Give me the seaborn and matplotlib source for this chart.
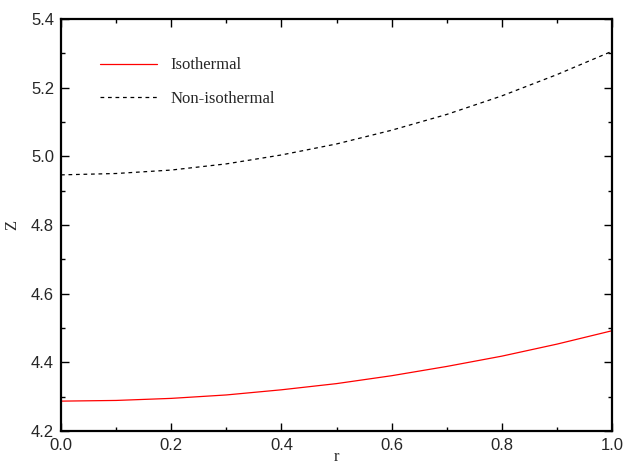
import numpy as np
import pandas as pd
import matplotlib
matplotlib.use("Agg")
import matplotlib.pyplot as plt
import seaborn as sns
from matplotlib.ticker import MultipleLocator

r = [0.0, 0.1, 0.2, 0.3, 0.4, 0.5, 0.6, 0.7, 0.8, 0.9, 1.0]
z_iso = [4.287, 4.289, 4.295, 4.305, 4.320, 4.338, 4.361, 4.388, 4.418, 4.453, 4.492]
z_noniso = [4.946, 4.950, 4.960, 4.978, 5.004, 5.036, 5.076, 5.122, 5.176, 5.238, 5.306]
series_names = ["Isothermal", "Non-isothermal"]

df = pd.concat([
    pd.DataFrame({"r": r, "Z": z_iso, "series": series_names[0]}),
    pd.DataFrame({"r": r, "Z": z_noniso, "series": series_names[1]}),
])

sns.set_style("ticks")
fig = plt.figure(figsize=(6.4, 4.66), dpi=100)
ax = fig.add_axes([61/640, 35/466, 551/640, 412/466])

sns.lineplot(data=df, x="r", y="Z", hue="series", style="series",
             palette={"Isothermal": "#ff0000", "Non-isothermal": "#000000"},
             dashes={"Isothermal": "", "Non-isothermal": (3, 3)},
             linewidth=0.9, ax=ax, legend=True)

ax.set_xlim(0, 1.0)
ax.set_ylim(4.2, 5.4)
ax.xaxis.set_major_locator(MultipleLocator(0.2))
ax.xaxis.set_minor_locator(MultipleLocator(0.1))
ax.yaxis.set_major_locator(MultipleLocator(0.2))
ax.yaxis.set_minor_locator(MultipleLocator(0.1))
ax.xaxis.set_major_formatter(matplotlib.ticker.FormatStrFormatter("%.1f"))
ax.yaxis.set_major_formatter(matplotlib.ticker.FormatStrFormatter("%.1f"))
ax.tick_params(which="both", direction="in", top=True, right=True, width=1, color="black")
ax.tick_params(which="major", length=6, labelsize=12, pad=5)
ax.tick_params(which="minor", length=3)
for lab in ax.get_xticklabels() + ax.get_yticklabels():
    lab.set_family(["Liberation Sans", "DejaVu Sans"])
for s in ax.spines.values():
    s.set_visible(True)
    s.set_linewidth(1.6)
    s.set_color("black")

ax.set_xlabel("r", family="Liberation Serif", fontsize=12, labelpad=-3)
ax.set_ylabel("Z", family="Liberation Serif", fontsize=12, labelpad=8)

handles, labels = ax.get_legend_handles_labels()
leg = ax.legend(handles, labels, loc="upper left", bbox_to_anchor=(0.044, 0.943),
                frameon=False, prop={"family": "Liberation Serif", "size": 12},
                handlelength=3.4, handletextpad=0.8, labelspacing=1.05)

fig.savefig("out.png", dpi=100)
